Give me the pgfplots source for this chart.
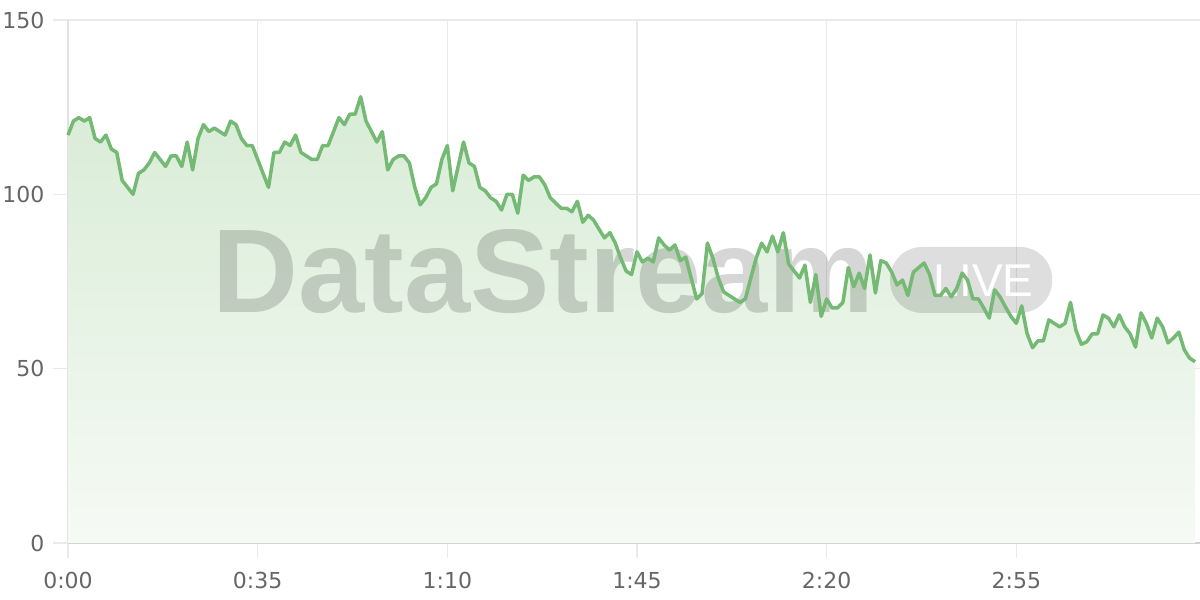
\documentclass[border=0pt]{standalone}
\usepackage{pgfplots}
\usepackage{pgfplotstable}
\pgfplotsset{compat=1.18}
\usepackage{fontspec}
\setmainfont{DejaVu Sans}
\newfontfamily\wmfont{Liberation Sans}
\definecolor{linegreen}{HTML}{74B974}
\definecolor{filltop}{HTML}{D8ECD6}
\definecolor{fillbot}{HTML}{F6FAF5}
\definecolor{gridgray}{HTML}{EAEAEA}
\definecolor{axisgray}{HTML}{CFCFCF}
\definecolor{labelgray}{HTML}{666666}
\pgfplotstableread{
t v
0 117
1 121
2 122
3 121
4 122
5 116
6 115
7 117
8 113
9 112
10 104
11 102
12 100
13 106
14 107
15 109
16 112
17 110
18 108
19 111
20 111
21 108
22 115
23 107
24 116
25 120
26 118
27 119
28 118
29 117
30 121
31 120
32 116
33 114
34 114
35 110
36 106
37 102
38 112
39 112
40 115
41 114
42 117
43 112
44 111
45 110
46 110
47 114
48 114
49 118
50 122
51 120
52 123
53 123
54 128
55 121
56 118
57 115
58 118
59 107
60 110
61 111
62 111
63 109
64 102
65 97
66 99
67 102
68 103
69 110
70 114
71 101
72 108
73 115
74 109
75 108
76 102
77 101
78 99
79 98
80 95.5
81 100
82 100
83 94.6
84 105.5
85 104
86 105
87 105
88 102.7
89 99
90 97.5
91 96
92 96
93 95
94 98
95 92
96 94
97 92.6
98 90
99 87.5
100 89
101 86
102 81.7
103 78
104 77
105 83.5
106 80.6
107 81.7
108 80.6
109 87.5
110 85.5
111 84
112 85.5
113 81
114 82
115 76
116 70
117 71.5
118 86
119 81.7
120 76
121 72
122 71
123 70
124 69
125 70
126 76
127 81.7
128 86
129 83.5
130 88
131 83.5
132 89
133 80
134 78
135 76
136 79.7
137 69
138 77
139 65
140 70
141 67.4
142 67.4
143 69
144 79
145 73.5
146 77.4
147 73
148 82.6
149 71.7
150 81
151 80.3
152 77.7
153 74
154 75.4
155 71
156 77.7
157 79
158 80.3
159 77
160 71
161 71
162 73
163 70.6
164 73
165 77.4
166 75.4
167 70
168 70
169 67.4
170 64.5
171 72.6
172 70.6
173 67.7
174 65
175 63
176 68
177 60
178 56
179 58
180 58
181 64
182 63
183 62
184 63
185 69
186 61
187 57
188 57.7
189 60
190 60
191 65.4
192 64.5
193 62
194 65.4
195 62
196 60
197 56.2
198 66
199 63
200 58.8
201 64.5
202 62
203 57.4
204 58.8
205 60.5
206 55.4
207 53
208 52
}\datatable
\begin{document}
\begin{tikzpicture}
\begin{axis}[
  at={(0,0)}, anchor=south west,
  scale only axis, width=566pt, height=261.5pt,
  xmin=0, xmax=208.9, ymin=0, ymax=150,
  xtick={0,35,70,105,140,175},
  xticklabels={0:00,0:35,1:10,1:45,2:20,2:55},
  ytick={0,50,100,150},
  axis x line*=bottom, axis y line*=left,
  axis line style={-},
  x axis line style={draw=axisgray, line width=1pt},
  y axis line style={draw=gridgray!70!axisgray, line width=1pt},
  grid=major,
  major grid style={draw=gridgray, line width=0.75pt},
  tick style={draw=gridgray, line width=0.75pt},
  tick align=outside, major tick length=7.5pt,
  ticklabel style={font=\fontsize{11}{13}\selectfont, text=labelgray},
  xticklabel style={yshift=-3.5pt},
  yticklabel style={xshift=-0.8pt},
  /pgf/number format/assume math mode=true,
  clip=false,
]
\addplot[draw=none, top color=filltop, bottom color=fillbot] table[x=t,y=v]{\datatable} \closedcycle;
\node[anchor=base west, inner sep=0pt, text=black, opacity=0.16, font=\wmfont\fontsize{59.5}{60}\selectfont\bfseries] at (axis cs:26.6,66) {DataStream};
\fill[black, opacity=0.13, rounded corners=16pt] (axis cs:151.7,66) rectangle (axis cs:181.6,84.9);
\node[anchor=base west, inner sep=0pt, text=white, font=\wmfont\fontsize{23}{24}\selectfont] at (axis cs:159.7,70.8) {LIVE};
\addplot[draw=linegreen, line width=1.75pt, line join=round, mark=none] table[x=t,y=v]{\datatable};
\end{axis}
\pgfresetboundingbox
\path (-34pt,-28.5pt) rectangle (566pt,271.5pt);
\end{tikzpicture}
\end{document}
